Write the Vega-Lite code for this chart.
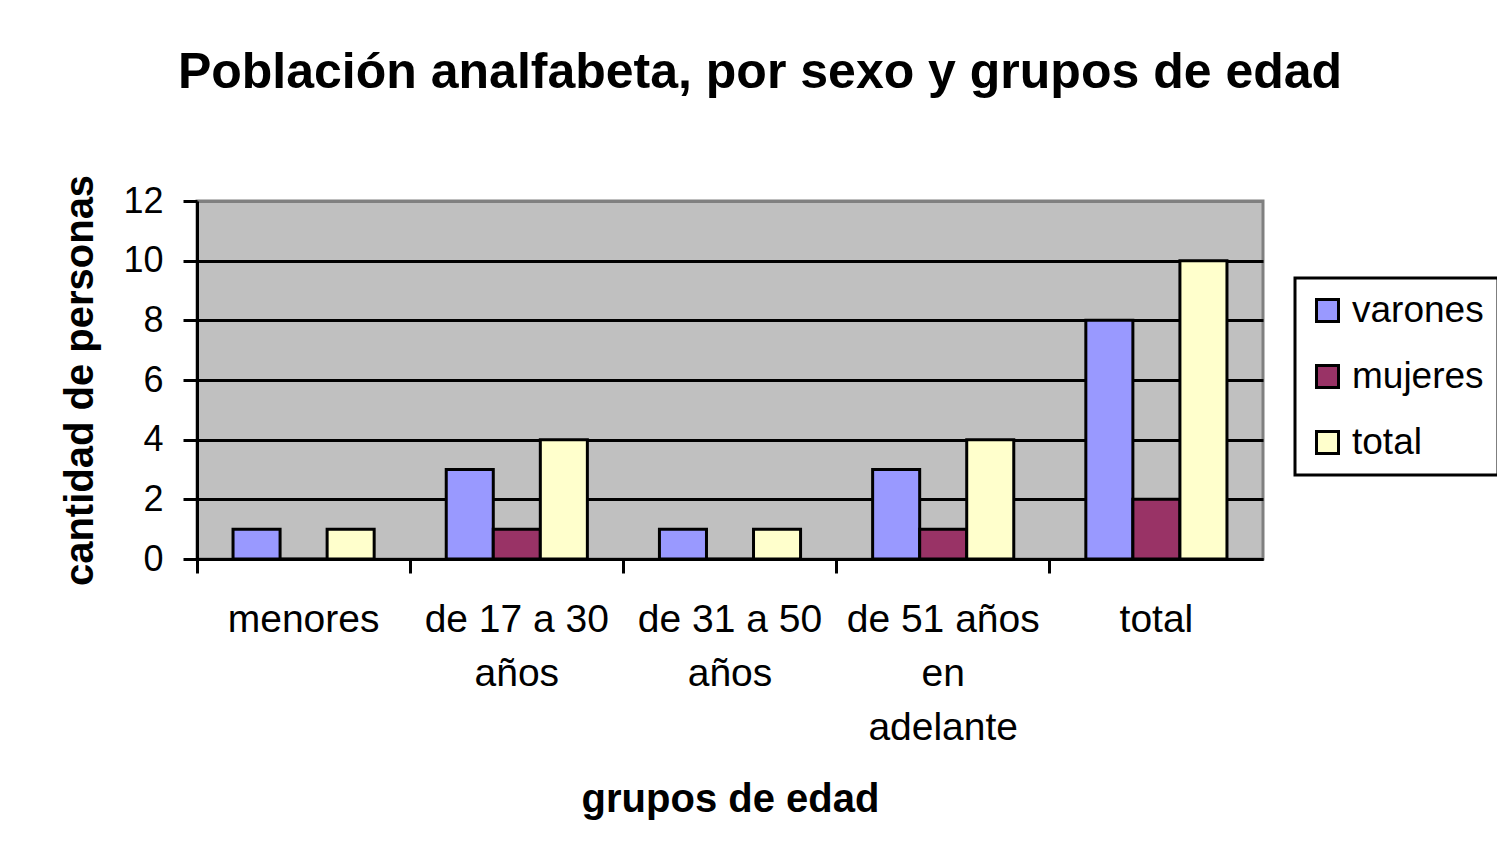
{
  "$schema": "https://vega.github.io/schema/vega-lite/v6.json",
  "width": 1066,
  "height": 358,
  "autosize": {"type": "none"},
  "padding": {"left": 197, "top": 201, "right": 234, "bottom": 303},
  "background": "#FFFFFF",
  "title": {
    "text": "Población analfabeta, por sexo y grupos de edad",
    "font": "Liberation Sans",
    "fontSize": 50,
    "fontWeight": "bold",
    "color": "#000000",
    "anchor": "middle",
    "frame": "group",
    "dx": 30,
    "offset": 76
  },
  "data": {
    "values": [
      {"grupo": "menores", "sexo": "varones", "valor": 1},
      {"grupo": "menores", "sexo": "mujeres", "valor": 0},
      {"grupo": "menores", "sexo": "total", "valor": 1},
      {"grupo": "de 17 a 30 años", "sexo": "varones", "valor": 3},
      {"grupo": "de 17 a 30 años", "sexo": "mujeres", "valor": 1},
      {"grupo": "de 17 a 30 años", "sexo": "total", "valor": 4},
      {"grupo": "de 31 a 50 años", "sexo": "varones", "valor": 1},
      {"grupo": "de 31 a 50 años", "sexo": "mujeres", "valor": 0},
      {"grupo": "de 31 a 50 años", "sexo": "total", "valor": 1},
      {"grupo": "de 51 años en adelante", "sexo": "varones", "valor": 3},
      {"grupo": "de 51 años en adelante", "sexo": "mujeres", "valor": 1},
      {"grupo": "de 51 años en adelante", "sexo": "total", "valor": 4},
      {"grupo": "total", "sexo": "varones", "valor": 8},
      {"grupo": "total", "sexo": "mujeres", "valor": 2},
      {"grupo": "total", "sexo": "total", "valor": 10}
    ]
  },
  "mark": {"type": "bar", "stroke": "#000000", "strokeWidth": 3, "strokeJoin": "miter"},
  "encoding": {
    "x": {
      "field": "grupo",
      "type": "nominal",
      "sort": ["menores", "de 17 a 30 años", "de 31 a 50 años", "de 51 años en adelante", "total"],
      "scale": {"paddingInner": 0, "paddingOuter": 0},
      "axis": {
        "title": "grupos de edad",
        "titleFont": "Liberation Sans",
        "titleFontSize": 40,
        "titleFontWeight": "bold",
        "titleColor": "#000000",
        "titlePadding": 32,
        "labelAngle": 0,
        "labelFont": "Liberation Sans",
        "labelFontSize": 39,
        "labelColor": "#000000",
        "labelLineHeight": 54,
        "labelPadding": 27,
        "labelLimit": 400,
        "labelBaseline": "top",
        "labelExpr": "datum.value == 'de 17 a 30 años' ? ['de 17 a 30', 'años'] : datum.value == 'de 31 a 50 años' ? ['de 31 a 50', 'años'] : datum.value == 'de 51 años en adelante' ? ['de 51 años', 'en', 'adelante'] : datum.value",
        "bandPosition": 0,
        "ticks": true,
        "tickSize": 14,
        "tickWidth": 3,
        "tickColor": "#000000",
        "domainColor": "#000000",
        "domainWidth": 3,
        "grid": false
      }
    },
    "xOffset": {
      "field": "sexo",
      "type": "nominal",
      "sort": ["varones", "mujeres", "total"],
      "scale": {"paddingInner": 0, "paddingOuter": 0.766}
    },
    "y": {
      "field": "valor",
      "type": "quantitative",
      "scale": {"domain": [0, 12], "nice": false},
      "axis": {
        "title": "cantidad de personas",
        "titleFont": "Liberation Sans",
        "titleFontSize": 40,
        "titleFontWeight": "bold",
        "titleColor": "#000000",
        "titlePadding": 22,
        "values": [0, 2, 4, 6, 8, 10, 12],
        "labelFont": "Liberation Sans",
        "labelFontSize": 36,
        "labelColor": "#000000",
        "labelPadding": 20,
        "tickSize": 14,
        "tickWidth": 3,
        "tickColor": "#000000",
        "domainColor": "#000000",
        "domainWidth": 3,
        "grid": true,
        "gridColor": {"condition": {"test": "datum.value == 12", "value": "#808080"}, "value": "#000000"},
        "gridWidth": 3,
        "gridOpacity": 1
      }
    },
    "color": {
      "field": "sexo",
      "type": "nominal",
      "sort": ["varones", "mujeres", "total"],
      "scale": {"domain": ["varones", "mujeres", "total"], "range": ["#9999FF", "#993366", "#FFFFCC"]},
      "legend": {
        "title": null,
        "orient": "none",
        "legendX": 1098,
        "legendY": 77,
        "strokeColor": "#000000",
        "padding": 14,
        "symbolType": "square",
        "symbolSize": 484,
        "symbolStrokeColor": "#000000",
        "symbolStrokeWidth": 3,
        "symbolOpacity": 1,
        "labelFont": "Liberation Sans",
        "labelFontSize": 37,
        "labelColor": "#000000",
        "labelOffset": 6,
        "rowPadding": 28,
        "labelLimit": 400
      }
    }
  },
  "config": {
    "view": {"fill": "#C0C0C0", "stroke": "#808080", "strokeWidth": 3},
    "legend": {"strokeWidth": 3}
  }
}
